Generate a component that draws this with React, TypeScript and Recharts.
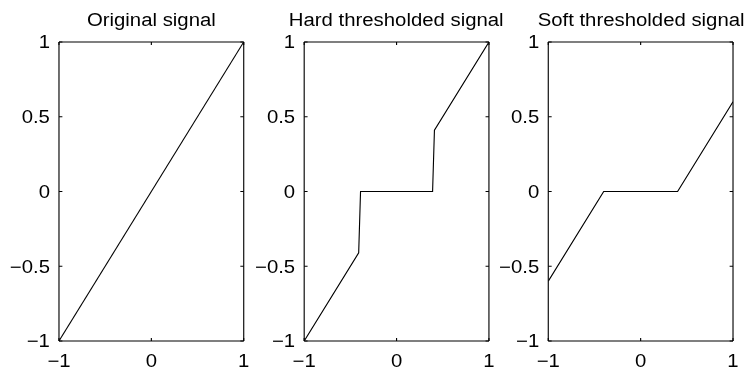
import React from 'react';
import { LineChart, Line, XAxis, YAxis } from 'recharts';

const xTicks = [-1, 0, 1];
const yTicks = [-1, -0.5, 0, 0.5, 1];

const originalX = [-1, 1];
const originalY = [-1, 1];

const hardX = [-1, -0.41, -0.39, 0.39, 0.41, 1];
const hardY = [-1, -0.41, 0, 0, 0.41, 1];

const softX = [-1, -0.4, 0.4, 1];
const softY = [-0.6, 0, 0, 0.6];

const titles = ['Original signal', 'Hard thresholded signal', 'Soft thresholded signal'];

// the reference is stretched sideways, so draw narrower and scale up
const STRETCH = 1.13;
const PANEL_W = 216.7;
const PLOT_LEFT = 52.2;
const PLOT_W = 163.5;
const AXIS_W = 40;
const FONT = 18;

const fmt = (v: number) => String(v).replace('-', '\u2212');

const Panel = ({ xs, ys, title, left }: { xs: number[]; ys: number[]; title: string; left: number }) => {
  const data = xs.map((x, i) => ({ x, y: ys[i] }));
  return (
    <div style={{ position: 'absolute', left, top: 0, width: PANEL_W, height: 371 }}>
      <div
        style={{
          position: 'absolute',
          left: PLOT_LEFT - 100,
          width: PLOT_W + 200,
          top: 10.5,
          lineHeight: `${FONT}px`,
          fontSize: FONT,
          textAlign: 'center',
          whiteSpace: 'nowrap',
          color: '#000',
        }}
      >
        {title}
      </div>
      <LineChart
        width={PANEL_W}
        height={371}
        data={data}
        margin={{ top: 41, right: PANEL_W - PLOT_LEFT - PLOT_W - 1, bottom: 0, left: PLOT_LEFT - AXIS_W }}
      >
        <XAxis
          xAxisId="b"
          dataKey="x"
          type="number"
          domain={[-1, 1]}
          ticks={xTicks}
          interval={0}
          height={30}
          tickSize={-3}
          tickMargin={16}
          stroke="#000"
          tick={{ fill: '#000', fontSize: FONT }}
          tickFormatter={fmt}
          allowDataOverflow
        />
        <XAxis
          xAxisId="t"
          dataKey="x"
          orientation="top"
          type="number"
          domain={[-1, 1]}
          ticks={xTicks}
          interval={0}
          height={1}
          tickSize={-3}
          stroke="#000"
          tickFormatter={() => ''}
          allowDataOverflow
        />
        <YAxis
          yAxisId="l"
          type="number"
          domain={[-1, 1]}
          ticks={yTicks}
          interval={0}
          width={AXIS_W}
          tickSize={-3}
          tickMargin={11}
          stroke="#000"
          tick={{ fill: '#000', fontSize: FONT }}
          tickFormatter={fmt}
          allowDataOverflow
        />
        <YAxis
          yAxisId="r"
          orientation="right"
          type="number"
          domain={[-1, 1]}
          ticks={yTicks}
          interval={0}
          width={1}
          tickSize={-3}
          stroke="#000"
          tickFormatter={() => ''}
          allowDataOverflow
        />
        {/* invisible copy so the top and right axes get drawn (box) */}
        <Line
          xAxisId="t"
          yAxisId="r"
          dataKey="y"
          stroke="none"
          dot={false}
          legendType="none"
          isAnimationActive={false}
        />
        <Line
          xAxisId="b"
          yAxisId="l"
          dataKey="y"
          type="linear"
          stroke="#000"
          strokeWidth={1}
          dot={false}
          isAnimationActive={false}
        />
      </LineChart>
    </div>
  );
};

export default function App() {
  const series = [
    [originalX, originalY],
    [hardX, hardY],
    [softX, softY],
  ];
  return (
    <div
      style={{
        position: 'absolute',
        left: 0,
        top: 0,
        width: 747,
        height: 371,
        overflow: 'hidden',
        background: '#fff',
        fontFamily: '"Liberation Sans", Arial, sans-serif',
      }}
    >
      <style>{'.recharts-surface{overflow:visible}'}</style>
      <div
        style={{
          position: 'relative',
          width: 747 / STRETCH,
          height: 371,
          transform: `scaleX(${STRETCH})`,
          transformOrigin: '0 0',
        }}
      >
        {series.map(([xs, ys], i) => (
          <Panel key={i} xs={xs} ys={ys} title={titles[i]} left={i * PANEL_W} />
        ))}
      </div>
    </div>
  );
}
